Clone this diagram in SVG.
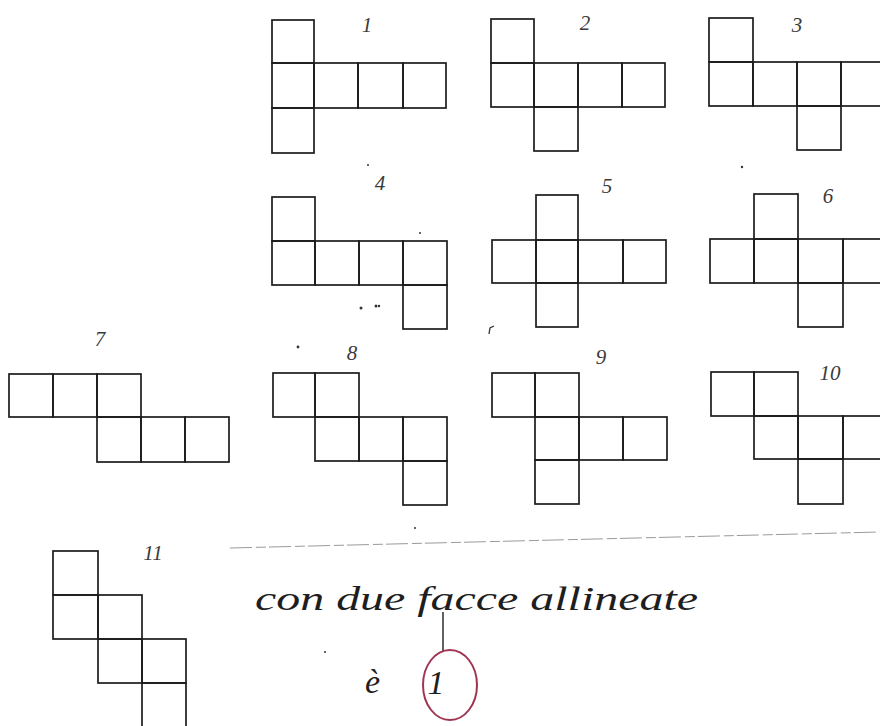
<svg xmlns="http://www.w3.org/2000/svg" width="880" height="726" viewBox="0 0 880 726">
<style>
  .sq{fill:none;stroke:#1c1c1c;stroke-width:1.7}
  .num{font-family:"Liberation Serif",serif;font-style:italic;font-size:21px;fill:#3a3a3a;text-anchor:middle}
  .hand{font-family:"Liberation Serif",serif;font-style:italic;font-size:34px;fill:#1e1e1e}
  .speck{fill:#333}
</style>
<rect width="880" height="726" fill="#ffffff"/>

<g id="net1">
  <rect class="sq" x="272" y="20" width="42" height="43"/>
  <rect class="sq" x="272" y="63" width="42" height="45"/>
  <rect class="sq" x="314" y="63" width="44" height="45"/>
  <rect class="sq" x="358" y="63" width="45" height="45"/>
  <rect class="sq" x="403" y="63" width="43" height="45"/>
  <rect class="sq" x="272" y="108" width="42" height="45"/>
  <text class="num" x="367" y="32">1</text>
</g>

<g id="net2">
  <rect class="sq" x="491" y="19" width="43" height="44"/>
  <rect class="sq" x="491" y="63" width="43" height="44"/>
  <rect class="sq" x="534" y="63" width="44" height="44"/>
  <rect class="sq" x="578" y="63" width="44" height="44"/>
  <rect class="sq" x="622" y="63" width="43" height="44"/>
  <rect class="sq" x="534" y="107" width="44" height="44"/>
  <text class="num" x="585" y="30">2</text>
</g>

<g id="net3">
  <rect class="sq" x="709" y="18" width="44" height="44"/>
  <rect class="sq" x="709" y="62" width="44" height="44"/>
  <rect class="sq" x="753" y="62" width="44" height="44"/>
  <rect class="sq" x="797" y="62" width="44" height="44"/>
  <rect class="sq" x="841" y="62" width="44" height="44"/>
  <rect class="sq" x="797" y="106" width="44" height="44"/>
  <text class="num" x="797" y="32">3</text>
</g>

<g id="net4">
  <rect class="sq" x="272" y="197" width="43" height="44"/>
  <rect class="sq" x="272" y="241" width="43" height="44"/>
  <rect class="sq" x="315" y="241" width="44" height="44"/>
  <rect class="sq" x="359" y="241" width="44" height="44"/>
  <rect class="sq" x="403" y="241" width="44" height="44"/>
  <rect class="sq" x="403" y="285" width="44" height="44"/>
  <text class="num" x="380" y="190">4</text>
</g>

<g id="net5">
  <rect class="sq" x="536" y="195" width="42" height="45"/>
  <rect class="sq" x="492" y="240" width="44" height="43"/>
  <rect class="sq" x="536" y="240" width="42" height="43"/>
  <rect class="sq" x="578" y="240" width="45" height="43"/>
  <rect class="sq" x="623" y="240" width="43" height="43"/>
  <rect class="sq" x="536" y="283" width="42" height="44"/>
  <text class="num" x="607" y="193">5</text>
</g>

<g id="net6">
  <rect class="sq" x="754" y="194" width="44" height="45"/>
  <rect class="sq" x="710" y="239" width="44" height="44"/>
  <rect class="sq" x="754" y="239" width="44" height="44"/>
  <rect class="sq" x="798" y="239" width="45" height="44"/>
  <rect class="sq" x="843" y="239" width="44" height="44"/>
  <rect class="sq" x="798" y="283" width="45" height="44"/>
  <text class="num" x="828" y="203">6</text>
</g>

<g id="net7">
  <rect class="sq" x="9" y="374" width="44" height="43"/>
  <rect class="sq" x="53" y="374" width="44" height="43"/>
  <rect class="sq" x="97" y="374" width="44" height="43"/>
  <rect class="sq" x="97" y="417" width="44" height="45"/>
  <rect class="sq" x="141" y="417" width="44" height="45"/>
  <rect class="sq" x="185" y="417" width="44" height="45"/>
  <text class="num" x="100" y="346">7</text>
</g>

<g id="net8">
  <rect class="sq" x="273" y="373" width="42" height="44"/>
  <rect class="sq" x="315" y="373" width="44" height="44"/>
  <rect class="sq" x="315" y="417" width="44" height="44"/>
  <rect class="sq" x="359" y="417" width="44" height="44"/>
  <rect class="sq" x="403" y="417" width="44" height="44"/>
  <rect class="sq" x="403" y="461" width="44" height="44"/>
  <text class="num" x="352" y="360">8</text>
</g>

<g id="net9">
  <rect class="sq" x="492" y="373" width="43" height="44"/>
  <rect class="sq" x="535" y="373" width="44" height="44"/>
  <rect class="sq" x="535" y="417" width="44" height="43"/>
  <rect class="sq" x="579" y="417" width="44" height="43"/>
  <rect class="sq" x="623" y="417" width="44" height="43"/>
  <rect class="sq" x="535" y="460" width="44" height="44"/>
  <text class="num" x="601" y="364">9</text>
</g>

<g id="net10">
  <rect class="sq" x="711" y="372" width="43" height="44"/>
  <rect class="sq" x="754" y="372" width="44" height="44"/>
  <rect class="sq" x="754" y="416" width="44" height="43"/>
  <rect class="sq" x="798" y="416" width="45" height="43"/>
  <rect class="sq" x="843" y="416" width="44" height="43"/>
  <rect class="sq" x="798" y="459" width="45" height="45"/>
  <text class="num" x="830" y="380">10</text>
</g>

<g id="net11">
  <rect class="sq" x="53" y="551" width="45" height="44"/>
  <rect class="sq" x="53" y="595" width="45" height="44"/>
  <rect class="sq" x="98" y="595" width="44" height="44"/>
  <rect class="sq" x="98" y="639" width="44" height="44"/>
  <rect class="sq" x="142" y="639" width="44" height="44"/>
  <rect class="sq" x="142" y="683" width="44" height="44"/>
  <text class="num" x="153" y="560">11</text>
</g>

<g id="divider">
  <path d="M230,548 L880,532" fill="none" stroke="#9a9a9a" stroke-width="1" stroke-dasharray="22 4 10 3"/>
</g>

<g id="answer">
  <text class="hand" x="255" y="610" textLength="443" lengthAdjust="spacingAndGlyphs">con due facce allineate</text>
  <line x1="443" y1="612" x2="443" y2="652" stroke="#1e1e1e" stroke-width="1.4"/>
  <text class="hand" x="365" y="693" font-size="30">è</text>
  <text class="hand" x="436" y="694" font-size="30" text-anchor="middle">1</text>
  <ellipse cx="450" cy="685" rx="27" ry="35" fill="none" stroke="#a03552" stroke-width="2"/>
</g>

<g id="specks">
  <circle class="speck" cx="361" cy="308" r="1.5"/>
  <circle class="speck" cx="376" cy="306" r="1.5"/>
  <circle class="speck" cx="379" cy="306" r="1.2"/>
  <circle class="speck" cx="420" cy="233" r="1"/>
  <circle class="speck" cx="742" cy="167" r="1.2"/>
  <circle class="speck" cx="298" cy="347" r="1.4"/>
  <path d="M489,334 L490,328 L494,326" fill="none" stroke="#333" stroke-width="1.3"/>
  <circle class="speck" cx="368" cy="165" r="1"/>
  <circle class="speck" cx="325" cy="652" r="1"/>
  <circle class="speck" cx="415" cy="528" r="1"/>
</g>
</svg>
